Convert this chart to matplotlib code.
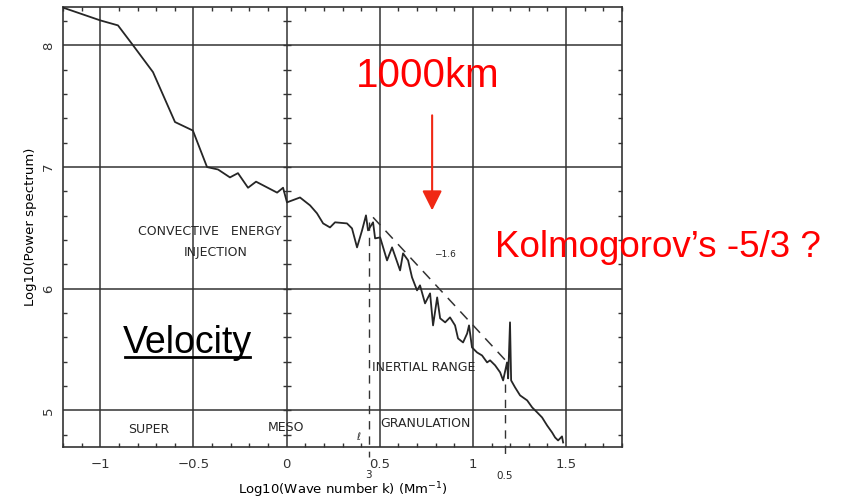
"""Velocity power spectrum of solar convection (log-log), with annotations
"""
import matplotlib as mpl
mpl.use('Agg')
import matplotlib.pyplot as plt
from matplotlib.ticker import MultipleLocator
import numpy as np

mpl.rcParams['font.family'] = 'DejaVu Sans'
mpl.rcParams['font.size'] = 9.5
mpl.rcParams['axes.linewidth'] = 1.2
mpl.rcParams['text.color'] = '#3a3a3a'
mpl.rcParams['xtick.color'] = '#333333'
mpl.rcParams['ytick.color'] = '#333333'

# log10 wave number k (Mm^-1) and log10 of the velocity power spectrum
log_k = [-1.20, -1.00, -0.905, -0.824, -0.717, -0.599, -0.503, -0.427, -0.368, -0.304,
         -0.261, -0.207, -0.164, -0.051, -0.019, 0.002, 0.072, 0.126, 0.163, 0.196,
         0.233, 0.260, 0.324, 0.351, 0.378, 0.405, 0.426, 0.437, 0.464, 0.475,
         0.502, 0.539, 0.566, 0.609, 0.625, 0.652, 0.673, 0.700, 0.716, 0.743,
         0.770, 0.786, 0.808, 0.824, 0.851, 0.877, 0.904, 0.920, 0.947, 0.969,
         0.979, 0.995, 1.022, 1.049, 1.076, 1.092, 1.119, 1.146, 1.162, 1.183,
         1.189, 1.199, 1.205, 1.226, 1.253, 1.291, 1.318, 1.345, 1.371, 1.398,
         1.425, 1.441, 1.457, 1.478, 1.484]
log_p = [8.31, 8.205, 8.164, 8.00, 7.78, 7.37, 7.30, 7.00, 6.98, 6.915,
         6.95, 6.83, 6.88, 6.79, 6.83, 6.71, 6.75, 6.685, 6.62, 6.537,
         6.504, 6.546, 6.537, 6.496, 6.34, 6.48, 6.603, 6.48, 6.546, 6.414,
         6.422, 6.233, 6.34, 6.151, 6.291, 6.233, 6.094, 5.987, 6.028, 5.88,
         5.962, 5.699, 5.929, 5.757, 5.724, 5.765, 5.699, 5.592, 5.559, 5.633,
         5.699, 5.518, 5.477, 5.452, 5.395, 5.412, 5.371, 5.313, 5.247, 5.395,
         5.264, 5.724, 5.247, 5.190, 5.124, 5.083, 5.025, 4.984, 4.943, 4.877,
         4.819, 4.778, 4.754, 4.787, 4.737]

grid_x = [-1, -0.5, 0, 0.5, 1, 1.5]
grid_y = [5, 6, 7, 8]

# fitted power law through the inertial range
slope_k = [0.464, 1.19]
slope_p = [6.587, 5.387]
slope_label = '\u22121.6'

# scale markers (length in Mm) bounding the inertial range
scale_k = [0.44, 1.172]
scale_top = [6.55, 5.22]
scale_label_p = [4.515, 4.50]
scale_labels = ['3', '0.5']

region_labels = ['CONVECTIVE   ENERGY', 'INJECTION', 'INERTIAL RANGE',
                 'SUPER', 'MESO', 'GRANULATION']
region_k = [-0.80, -0.38, 0.46, -0.74, -0.005, 0.50]
region_p = [6.47, 6.30, 5.35, 4.845, 4.86, 4.894]
region_ha = ['left', 'center', 'left', 'center', 'center', 'left']

ink = '#262626'
red = '#ff0000'


def spectrum_plot(plot_path):
    fig = plt.figure(figsize=(8.46, 5.0), dpi=100)
    ax = fig.add_axes([63 / 846, 1 - 447 / 500, 559 / 846, 440 / 500])

    for gx in grid_x:
        ax.axvline(gx, color='#333333', lw=1.1, zorder=1)
    for gy in grid_y:
        ax.axhline(gy, color='#333333', lw=1.1, zorder=1)

    ax.plot(log_k, log_p, color=ink, lw=1.3, zorder=3)

    # power law guide
    ax.plot(slope_k, slope_p, color='#333333', lw=1.1, dashes=(7, 5), zorder=2)
    ax.text(0.79, 6.28, slope_label, fontsize=6.5, color=ink, va='center')

    # dashed scale markers reaching below the axis
    for k, top, lp, lab in zip(scale_k, scale_top, scale_label_p, scale_labels):
        ax.plot([k, k], [top, 4.62], color='#333333', lw=1.0, dashes=(6, 5),
                clip_on=False, zorder=2)
        ax.text(k, lp, lab, fontsize=7.5, color=ink, ha='center', va='top',
                clip_on=False)
    ax.text(0.385, 4.78, '\u2113', fontsize=7, color=ink, ha='center', va='center')

    for lab, k, p, ha in zip(region_labels, region_k, region_p, region_ha):
        ax.text(k, p, lab, fontsize=9, color=ink, ha=ha, va='center')

    # tick marks along the k = 0 line
    zero_ticks = np.arange(4.8, 8.3, 0.2)
    ax.plot(np.zeros(len(zero_ticks)), zero_ticks, ls='none', marker='_',
            ms=6, mew=1.0, color='#333333', zorder=2)

    ax.set_xlim(-1.2, 1.8)
    ax.set_ylim(4.7, 8.315)
    ax.set_xticks(grid_x)
    ax.set_xticklabels(['\u22121', '\u22120.5', '0', '0.5', '1', '1.5'])
    ax.set_yticks(grid_y)
    ax.xaxis.set_minor_locator(MultipleLocator(0.1))
    ax.yaxis.set_minor_locator(MultipleLocator(0.2))
    ax.tick_params(which='both', direction='in', top=True, right=True)
    ax.tick_params(which='major', length=0)
    ax.tick_params(which='minor', length=3, width=1.0)
    ax.tick_params(axis='x', pad=8, labelsize=9.5)
    ax.tick_params(axis='y', pad=6, labelsize=9.5)
    plt.setp(ax.get_yticklabels(), rotation=90, va='center')
    for sp in ax.spines.values():
        sp.set_color('#333333')

    ax.set_xlabel('Log10(Wave number k) (Mm$^{-1}$)', fontsize=9.5)
    ax.set_ylabel('Log10(Power spectrum)', fontsize=9.5)
    ax.xaxis.set_label_coords(0.5, -0.075)
    ax.yaxis.set_label_coords(-0.047, 0.5)

    # overlaid remarks
    fig.text(356 / 846, 1 - 87 / 500, '1000km', fontsize=29, color=red,
             family='Liberation Sans', ha='left', va='baseline')
    ax.annotate('', xy=(0.781, 6.644), xytext=(0.781, 7.425),
                arrowprops=dict(arrowstyle='-|>,head_length=0.8,head_width=0.4',
                                color='#f02814', lw=1.5, mutation_scale=15,
                                shrinkA=0, shrinkB=0))
    fig.text(495 / 846, 1 - 257 / 500, 'Kolmogorov\u2019s -5/3 ?', fontsize=26.5,
             color=red, family='Liberation Sans', ha='left', va='baseline')
    vel = fig.text(123 / 846, 1 - 353 / 500, 'Velocity', fontsize=27,
                   color='black', family='Liberation Sans', ha='left', va='baseline')

    # underline the Velocity label
    fig.canvas.draw()
    bb = vel.get_window_extent().transformed(fig.transFigure.inverted())
    fig.add_artist(plt.Line2D([bb.x0 + 0.002, bb.x1 - 0.002],
                              [1 - 357 / 500, 1 - 357 / 500],
                              color='black', lw=2.0, transform=fig.transFigure))

    plt.savefig(plot_path, dpi=100)
    plt.close()


def main():
    spectrum_plot('out.png')


if __name__ == '__main__':
    main()
